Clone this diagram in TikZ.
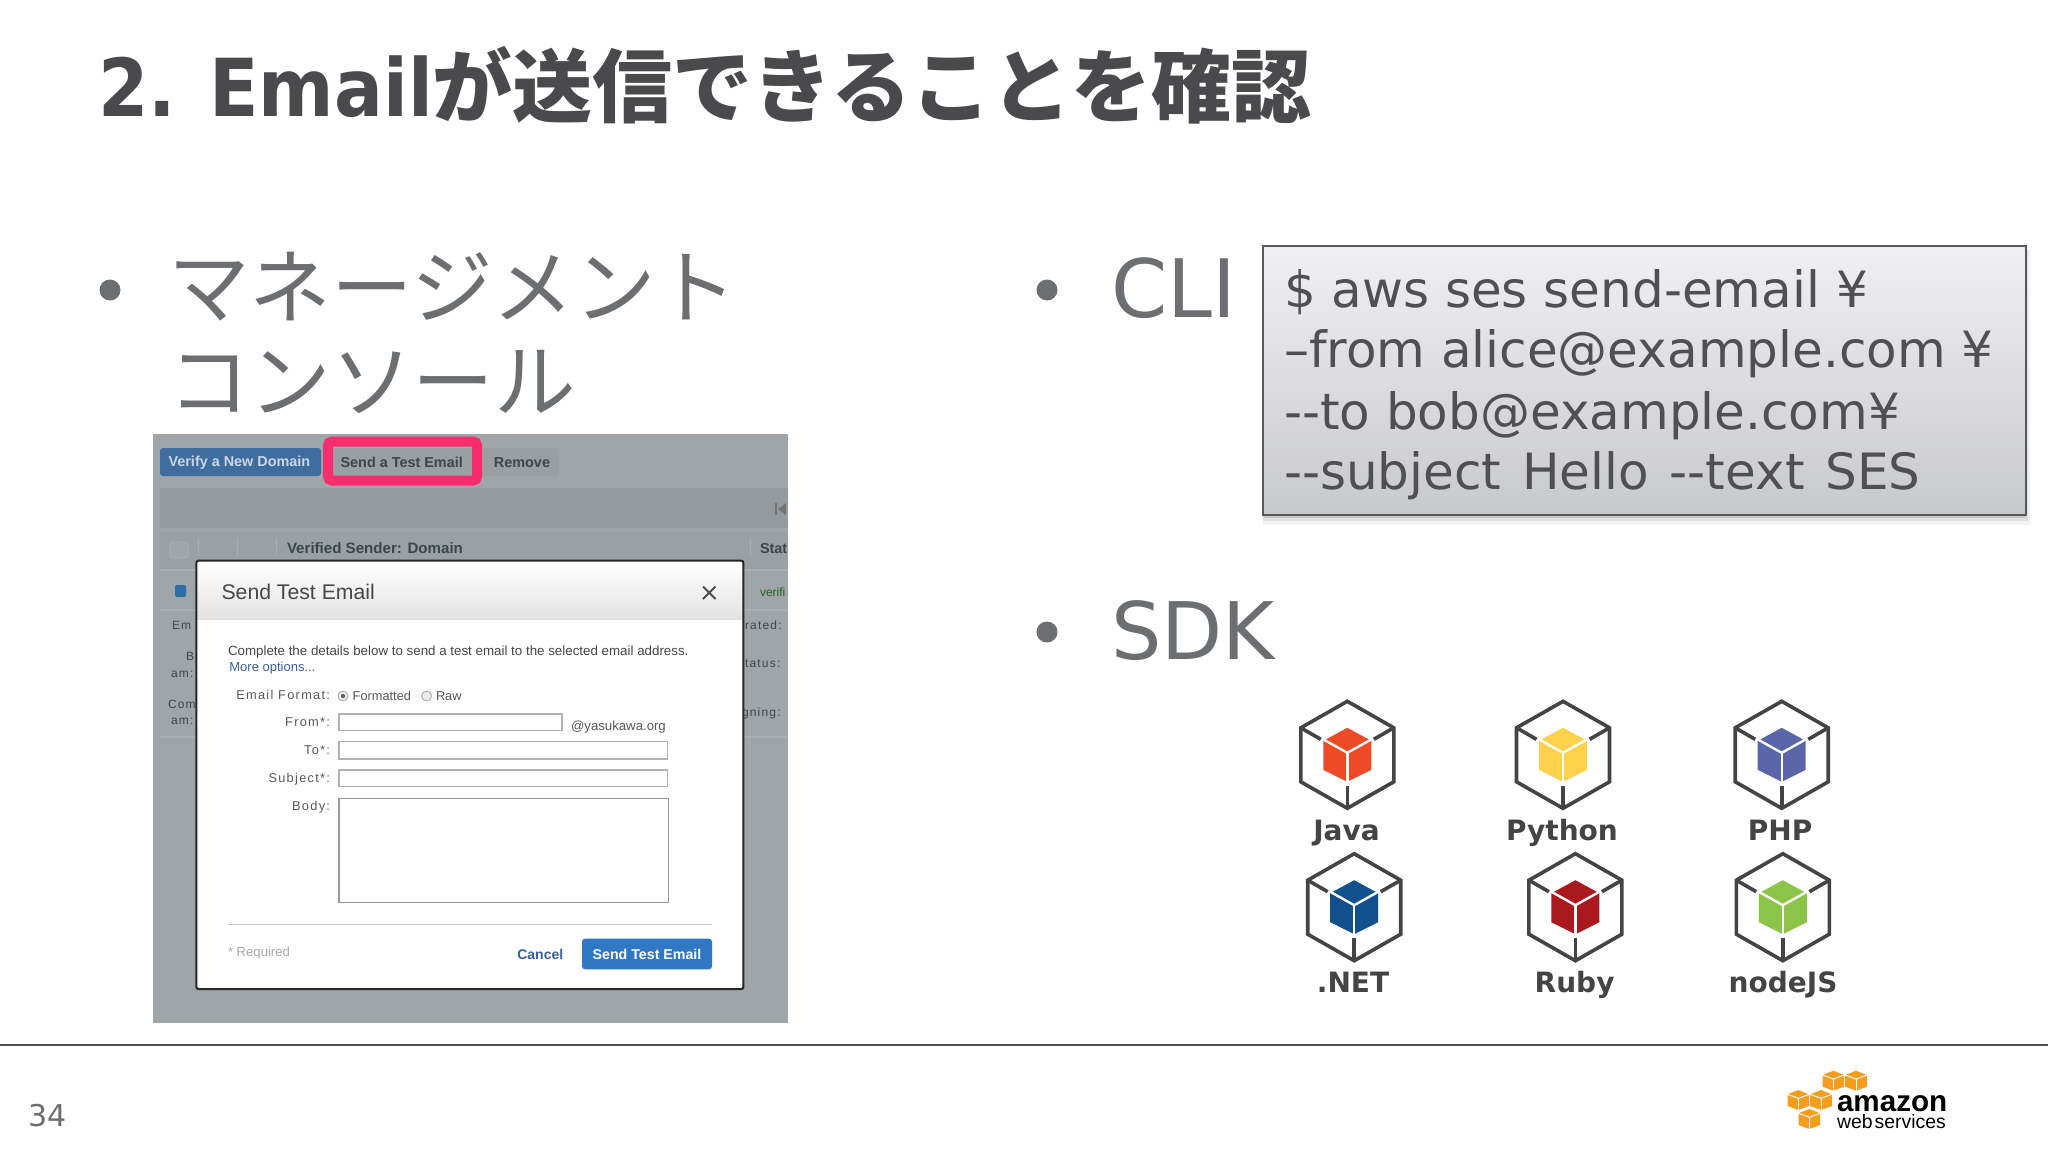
\documentclass[tikz,border=0pt]{standalone}
\usepackage{fontspec}
\setmainfont{DejaVu Sans}
\newfontfamily\dvn[FakeStretch=0.905]{DejaVu Sans}
\newfontfamily\jp{Noto Sans CJK JP}
\newfontfamily\ui{Liberation Sans}
\newfontfamily\uisp[LetterSpace=10]{Liberation Sans}
\newcommand\fs[1]{\fontsize{#1}{#1}\selectfont}
\definecolor{titlec}{HTML}{4A4A4C}
\definecolor{bodyc}{HTML}{6D6E71}
\definecolor{codec}{HTML}{505052}
\definecolor{iconc}{HTML}{444446}
\definecolor{panelc}{HTML}{9FA5A8}
\definecolor{bandc}{HTML}{959A9E}
\definecolor{headc}{HTML}{9AA0A3}
\definecolor{sepc}{HTML}{A9AEB1}
\definecolor{pinkc}{HTML}{F92D6E}
\definecolor{btnc}{HTML}{3F6D9F}
\definecolor{greyb}{HTML}{999FA2}
\definecolor{uitext}{HTML}{3C464C}
\definecolor{linkc}{HTML}{3A5F9F}
\definecolor{awsc}{HTML}{F79C1D}
\definecolor{blueb}{HTML}{3077C6}
\definecolor{bluec}{HTML}{2D6DA8}
\definecolor{boxtop}{HTML}{F0F0F2}
\definecolor{boxbot}{HTML}{C8C9CC}
\definecolor{javac}{HTML}{EF4A26}
\definecolor{pythonc}{HTML}{FDD14C}
\definecolor{phpc}{HTML}{5967A8}
\definecolor{netc}{HTML}{11508F}
\definecolor{rubyc}{HTML}{A9191E}
\definecolor{nodec}{HTML}{8CC449}
\tikzset{
  lbl/.style={inner sep=0pt,outer sep=0pt,anchor=base west},
  lblc/.style={inner sep=0pt,outer sep=0pt,anchor=center},
  lblr/.style={inner sep=0pt,outer sep=0pt,anchor=mid east},
  lbll/.style={inner sep=0pt,outer sep=0pt,anchor=mid west},
  bigtext/.style={lbl,text=bodyc,font=\fs{39.7}},
  bigjp/.style={lbl,text=bodyc,font=\jp\fs{40.8}},
  codetext/.style={lbl,text=codec,font=\fs{25}},
  sdklabel/.style={inner sep=0pt,outer sep=0pt,anchor=base,text=iconc,font=\bfseries\fs{14}},
  bulletdot/.style={fill=bodyc,draw=none},
  hexline/.style={draw=iconc,line width=1.8pt,line join=miter},
  paneltext/.style={lblc,text=uitext,font=\ui\bfseries\fs{7.2}},
  backtext/.style={lbll,text=uitext,font=\uisp\fs{6}},
  formlabel/.style={lblr,text=black!65,font=\uisp\fs{6.4}},
  forminput/.style={draw=black!30,fill=white,line width=0.7pt},
  radio/.style={draw=black!35,fill=black!8,line width=0.4pt},
}
\newcommand\sdkicon[3]{%
  \begin{scope}[shift={(#1,#2)}]
    \draw[hexline] (0,-53.5) -- (46.5,-27) -- (46.5,27) -- (0,53.5) -- (-46.5,27) -- (-46.5,-27) -- cycle;
    \draw[hexline] (-46.5,-27) -- (-26.5,-15.5);
    \draw[hexline] (46.5,-27) -- (26.5,-15.5);
    \draw[hexline] (0,53.5) -- (0,31);
    \fill[#3] (0,-27) -- (24,-14) -- (24,15) -- (0,27) -- (-24,15) -- (-24,-14) -- cycle;
    \draw[white,line width=1.2pt] (-25,-16) -- (0,-2) -- (25,-16);
    \draw[white,line width=1.2pt] (0,-2) -- (0,28);
  \end{scope}}
\newcommand\awscube[2]{%
  \begin{scope}[shift={(#1,#2)}]
    \fill[awsc] (0,-10) -- (10.8,-5.7) -- (10.8,6) -- (0,10) -- (-10.8,6) -- (-10.8,-5.7) -- cycle;
    \draw[white,line width=0.5pt] (-10.8,-5.7) -- (0,-1.7) -- (10.8,-5.7);
    \draw[white,line width=0.5pt] (0,-1.7) -- (0,10);
  \end{scope}}
\begin{document}
\begin{tikzpicture}[x=0.5pt,y=-0.5pt]
\useasboundingbox (0,0) rectangle (2048,1152);
\fill[white] (0,0) rectangle (2048,1152);

% title
\node[lbl,text=titlec,font=\bfseries\fs{40}] (title) at (98,116) {{\dvn 2. Email}{\jp が送信できることを確認}};

% left column
\fill[bulletdot] (110,290) circle (10.5);
\node[bigjp] (mgmt1) at (168,317) {マネージメント};
\node[bigjp] (mgmt2) at (168,411) {コンソール};

% screenshot
\fill[panelc] (153,434) rectangle (787.5,1023);
\begin{scope}
  \clip (153,434) rectangle (787.5,1023);
  \fill[bandc] (160,488) rectangle (787.5,528);
  \fill[headc] (160,532) rectangle (787.5,570);
  \draw[sepc,line width=0.6pt] (160,570) -- (787.5,570);
  \draw[sepc,line width=0.6pt] (160,610) -- (787.5,610);
  \draw[sepc,line width=0.6pt] (160,737) -- (787.5,737);
  \fill[btnc,rounded corners=1.5pt] (160,448) rectangle (321,476);
  \fill[greyb,rounded corners=1.5pt] (325,448) rectangle (559,476);
  \draw[pinkc,line width=5pt,rounded corners=2pt] (328,441.5) rectangle (477,480.5);
  \node[paneltext,text=white!72!btnc] (verify) at (239.4,462.7) {Verify a New Domain};
  \node[paneltext] (sendtest) at (401.7,462.7) {Send a Test Email};
  \node[paneltext] (remove) at (522,462.7) {Remove};
  \draw[black!55,line width=1pt] (776,503) -- (776,515);
  \fill[black!55] (786,503) -- (778,509) -- (786,515) -- cycle;
  \draw[sepc,fill=panelc,line width=0.5pt,rounded corners=1.5pt] (170,542) rectangle (188,558);
  \draw[sepc,line width=0.5pt] (198.6,538) -- (198.6,556) (237.7,538) -- (237.7,556) (276.7,538) -- (276.7,556) (750,538) -- (750,556);
  \node[paneltext,anchor=mid west,font=\ui\bfseries\fs{7.55}] (vsd) at (287,548) {Verified Sender: Domain};
  \node[paneltext,anchor=mid west] (stat) at (760,548) {Stat};
  \fill[bluec,rounded corners=1pt] (175,585) rectangle (186,597);
  \node[lbll,text=green!35!black!70!gray,font=\ui\fs{6}] (verifi) at (760,591) {verifi};
  \node[backtext] (b1) at (172,624) {Em};
  \node[backtext] (b2) at (186,655) {B};
  \node[backtext] (b3) at (171,672) {am:};
  \node[backtext] (b4) at (168,703) {Com};
  \node[backtext] (b5) at (171,719) {am:};
  \node[backtext] (b6) at (745,624) {rated:};
  \node[backtext] (b7) at (745,662) {tatus:};
  \node[backtext] (b8) at (742,711) {gning:};
\end{scope}

% dialog
\fill[white,rounded corners=1pt] (196.4,560.7) rectangle (743.3,989);
\shade[top color=white,bottom color=black!11,rounded corners=0pt] (197,561.5) rectangle (743,619);
\draw[black!12,line width=0.5pt] (197,619.5) -- (743,619.5);
\draw[black!85,line width=1pt,rounded corners=1pt] (196.4,560.7) rectangle (743.3,989);
\node[lbll,text=black!72,font=\ui\fs{10.6}] (dtitle) at (221.6,594) {Send Test Email};
\draw[black!70,line width=1pt] (703,586.5) -- (715.5,599) (715.5,586.5) -- (703,599);
\node[lbll,text=black!72,font=\ui\fs{6.67}] (intro) at (228,650) {Complete the details below to send a test email to the selected email address.};
\node[lbll,text=linkc,font=\ui\fs{6.5}] (more) at (229.4,665.7) {More options...};
\node[formlabel] (fmt) at (330,694) {Email Format:};
\filldraw[radio] (343,696) circle (5);
\fill[black!60] (343,696) circle (2.2);
\node[lbll,text=black!65,font=\ui\fs{6.4}] (fmta) at (352.7,695.5) {Formatted};
\filldraw[radio] (426.5,696) circle (5);
\node[lbll,text=black!65,font=\ui\fs{6.4}] (fmtb) at (436,695.5) {Raw};
\node[formlabel] (from) at (330,720.7) {From*:};
\filldraw[forminput] (338.8,714) rectangle (562,730.7);
\node[lbll,text=black!65,font=\ui\fs{6.6}] (dom) at (571,725) {@yasukawa.org};
\node[formlabel] (to) at (330,749) {To*:};
\filldraw[forminput] (338.8,741.7) rectangle (667.3,759);
\node[formlabel] (subj) at (330,777) {Subject*:};
\filldraw[forminput] (338.8,770) rectangle (667.3,786.7);
\node[formlabel] (body) at (330,805) {Body:};
\filldraw[forminput,draw=black!40] (338.8,798.3) rectangle (668.6,902.3);
\draw[black!22,line width=0.7pt] (228,924.7) -- (712,924.7);
\node[lbll,text=black!35,font=\ui\fs{6.55}] (req) at (228,951) {* Required};
\node[lblc,text=linkc,font=\ui\bfseries\fs{7}] (cancel) at (540.3,954) {Cancel};
\fill[blueb,rounded corners=1.5pt] (582,938.7) rectangle (712,969.3);
\node[lblc,text=white,font=\ui\bfseries\fs{7.1}] (sendbtn) at (647,954) {Send Test Email};

% right column
\fill[bulletdot] (1047,290) circle (10.5);
\node[bigtext,font=\fs{40.3}] (cli) at (1111,317.5) {CLI};
\fill[bulletdot] (1047,632) circle (10.5);
\node[bigtext] (sdk) at (1111,659.5) {SDK};

% CLI box
\fill[black,opacity=0.05] (1263,250) rectangle (2030,525);
\fill[black,opacity=0.07] (1263,250) rectangle (2028,521);
\fill[black,opacity=0.10] (1263,250) rectangle (2026,518);
\shade[top color=boxtop,bottom color=boxbot] (1263,245.5) rectangle (2026,514.5);
\draw[black!65,line width=1pt] (1263,245.5) rectangle (2026,514.5);
\node[codetext] (c1) at (1284,307) {\$ aws ses send-email ¥};
\node[codetext] (c2) at (1284,367) {–from alice@example.com ¥};
\node[codetext] (c3) at (1284,429) {-{}-to bob@example.com¥};
\node[codetext] (c4) at (1284,489) {-{}-subject\kern2.5pt{} Hello\kern2.5pt{} -{}-text\kern2.5pt{} SES};

% SDK icons
\sdkicon{1347.3}{754.8}{javac}
\sdkicon{1563}{754.8}{pythonc}
\sdkicon{1781.7}{754.8}{phpc}
\sdkicon{1354.2}{907.2}{netc}
\sdkicon{1575.4}{907.2}{rubyc}
\sdkicon{1782.8}{907.2}{nodec}
\node[sdklabel] (java) at (1346.5,840) {Java};
\node[sdklabel] (python) at (1562,840) {Python};
\node[sdklabel] (php) at (1780,840) {PHP};
\node[sdklabel] (net) at (1353,992.3) {.NET};
\node[sdklabel] (ruby) at (1574.6,992.3) {Ruby};
\node[sdklabel] (node) at (1783,992.3) {nodeJS};

% footer
\draw[black!70,line width=0.7pt] (0,1045) -- (2048,1045);
\node[lblc,text=bodyc,font=\fs{15}] (page) at (48,1116) {34};
\awscube{1833.3}{1080.7}
\awscube{1856}{1080.7}
\awscube{1798.3}{1100}
\awscube{1821}{1100}
\awscube{1809.3}{1119}
\node[lbl,text=black,font=\ui\bfseries\fs{14.8}] (amazon) at (1837,1111) {amazon};
\node[lbl,text=black,font=\ui\fs{9.7}] (ws) at (1837,1128) {web\kern1pt services};
\end{tikzpicture}
\end{document}
